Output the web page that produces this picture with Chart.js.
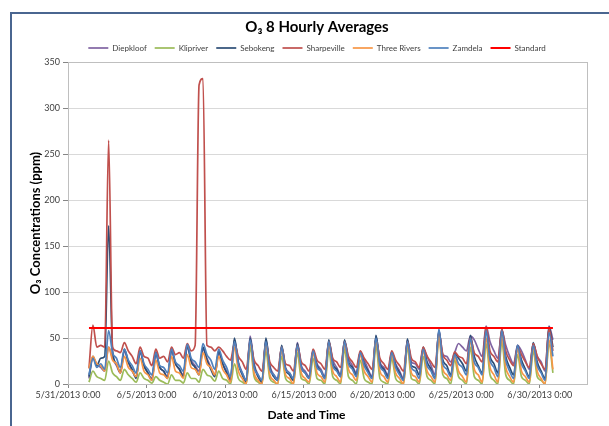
<!DOCTYPE html>
<html>
<head>
<meta charset="utf-8">
<script src="https://cdn.jsdelivr.net/npm/chart.js@4"></script>
<style>
    html, body { margin: 0; padding: 0; background: #fff; overflow: hidden; }
    #wrap { position: relative; width: 609px; height: 426px; overflow: hidden; }
    #box { position: absolute; left: 0; top: 0; width: 624px; height: 426px; }
</style>
</head>
<body>
<div id="wrap">
    <div id="box"><canvas id="o3Chart"></canvas></div>
</div>
<script>
// x axis: days since 5/31/2013 0:00
const tickDays = [0, 5, 10, 15, 20, 25, 30];
const tickLabels = ["5/31/2013 0:00", "6/5/2013 0:00", "6/10/2013 0:00", "6/15/2013 0:00",
                    "6/20/2013 0:00", "6/25/2013 0:00", "6/30/2013 0:00"];
const xAxisTitle = "Date and Time";

// samples every 6 hours, 6/1 8:00 to 6/30 20:00
const sampleHours = [2, 8, 14, 20];
const firstDay = 1;
const lastDay = 30;

const stationNames = ["Diepkloof", "Klipriver", "Sebokeng", "Sharpeville", "Three Rivers", "Zamdela"];
const standardValue = 61;

const diepkloof = [
    6, 28, 22,
    18, 14, 40, 28,   20, 12, 36, 24,   14, 8, 34, 20,    12, 6, 32, 18,
    14, 8, 36, 22,    16, 10, 40, 26,   20, 14, 38, 28,   18, 10, 34, 22,   14, 6, 48, 24,
    12, 4, 52, 22,    10, 4, 48, 20,    10, 6, 40, 18,    12, 6, 45, 20,    14, 8, 36, 22,
    16, 8, 46, 26,    18, 10, 47, 28,   20, 12, 34, 26,   16, 8, 52, 24,    18, 10, 34, 22,
    14, 6, 48, 24,    22, 16, 38, 30,   20, 10, 58, 32,   30, 24, 34, 44,   40, 36, 52, 48,
    38, 30, 63, 46,   36, 28, 58, 42,   30, 22, 42, 36,   26, 16, 44, 30,   24, 14, 63, 48
];
const klipriver = [
    2, 14, 8,
    6, 4, 25, 12,     8, 4, 16, 10,     6, 2, 12, 6,      4, 1, 8, 4,
    2, 0, 10, 4,      4, 1, 12, 6,      6, 2, 16, 10,     8, 3, 14, 6,      4, 0, 22, 6,
    2, 0, 40, 8,      2, 0, 36, 6,      2, 0, 30, 6,      2, 0, 34, 6,      4, 0, 28, 6,
    4, 0, 36, 8,      4, 0, 38, 8,      4, 0, 26, 6,      2, 0, 42, 6,      2, 0, 28, 6,
    2, 0, 40, 6,      4, 0, 30, 8,      4, 0, 54, 10,     6, 0, 26, 8,      4, 0, 40, 8,
    4, 0, 44, 10,     4, 0, 46, 10,     4, 0, 32, 8,      4, 0, 36, 8,      4, 0, 44, 12
];
const sebokeng = [
    8, 30, 20,
    28, 30, 172, 36,  22, 12, 38, 24,   16, 6, 36, 20,    12, 4, 35, 18,
    14, 6, 38, 22,    16, 8, 42, 24,    18, 10, 40, 26,   16, 8, 36, 22,    12, 4, 50, 22,
    10, 2, 50, 20,    8, 2, 50, 18,     8, 4, 42, 16,     10, 4, 44, 18,    12, 6, 37, 20,
    14, 6, 48, 22,    16, 8, 48, 24,    18, 10, 35, 22,   14, 6, 53, 22,    16, 8, 35, 20,
    12, 4, 49, 20,    18, 10, 40, 24,   16, 6, 58, 26,    20, 10, 33, 28,   22, 14, 53, 30,
    20, 12, 60, 30,   22, 12, 60, 30,   18, 10, 42, 26,   16, 8, 45, 24,    14, 6, 62, 40
];
const sharpeville = [
    17, 64, 40,
    42, 40, 265, 40,  36, 34, 45, 36,   30, 22, 40, 30,   28, 20, 38, 28,
    30, 24, 40, 32,   34, 28, 44, 36,   42, 325, 332, 42, 40, 36, 40, 36,  30, 26, 44, 30,
    24, 16, 46, 26,   20, 14, 44, 24,   18, 14, 40, 22,   20, 14, 42, 24,   20, 14, 38, 26,
    22, 16, 46, 28,   24, 18, 46, 30,   24, 18, 36, 28,   22, 16, 48, 28,   22, 16, 36, 26,
    20, 14, 46, 28,   24, 18, 40, 30,   24, 18, 56, 32,   26, 20, 35, 30,   28, 22, 50, 34,
    30, 24, 62, 36,   30, 24, 60, 36,   26, 20, 40, 32,   24, 18, 44, 30,   22, 16, 60, 36
];
const threeRivers = [
    17, 30, 22,
    20, 14, 40, 26,   22, 12, 30, 18,   14, 8, 28, 14,    10, 4, 26, 12,
    10, 6, 30, 14,    12, 6, 32, 18,    16, 10, 34, 22,   18, 10, 30, 16,   10, 2, 40, 14,
    6, 0, 46, 12,     4, 0, 44, 10,     4, 0, 38, 10,     6, 0, 40, 12,     6, 2, 34, 12,
    8, 2, 44, 14,     8, 2, 44, 16,     10, 4, 32, 14,    8, 2, 48, 14,     8, 2, 32, 12,
    6, 0, 44, 12,     8, 2, 36, 14,     8, 2, 52, 16,     10, 4, 30, 14,    8, 2, 48, 16,
    10, 2, 50, 18,    10, 2, 52, 18,    8, 2, 38, 14,     8, 2, 40, 14,     6, 0, 48, 16
];
const zamdela = [
    10, 28, 18,
    22, 16, 58, 34,   28, 18, 38, 26,   20, 12, 36, 22,   16, 10, 34, 20,
    18, 12, 38, 24,   20, 14, 43, 28,   24, 18, 44, 32,   26, 16, 38, 26,   18, 8, 46, 22,
    12, 4, 48, 18,    10, 4, 46, 16,    10, 4, 40, 16,    12, 6, 42, 18,    12, 6, 36, 18,
    14, 6, 46, 20,    14, 8, 46, 22,    16, 8, 34, 20,    12, 6, 50, 20,    14, 6, 34, 18,
    10, 4, 46, 18,    14, 6, 38, 20,    14, 6, 60, 22,    16, 8, 32, 22,    18, 10, 50, 24,
    18, 10, 58, 26,   18, 8, 58, 26,    14, 6, 42, 22,    14, 6, 42, 20,    12, 4, 56, 30
];

const stationValues = [diepkloof, klipriver, sebokeng, sharpeville, threeRivers, zamdela];
const stationColors = ["#8064a2", "#9bbb59", "#2c4d75", "#c0504d", "#f79646", "#4f81bd"];

// sample times in days
const sampleTimes = [];
for (let d = firstDay; d <= lastDay; d++) {
    sampleHours.forEach(h => {
        if (d === firstDay && h < 8) return;
        sampleTimes.push(d + h / 24);
    });
}

const toPoints = values => values.map((v, i) => ({ x: sampleTimes[i], y: v }));

const datasets = stationNames.map((name, i) => ({
    label: name,
    data: toPoints(stationValues[i]),
    borderColor: stationColors[i],
    backgroundColor: stationColors[i],
    borderWidth: 1.7,
    pointRadius: 0,
    order: 10 - i
}));
datasets.push({
    label: "Standard",
    data: sampleTimes.map(t => ({ x: t, y: standardValue })),
    borderColor: "#ff0000",
    backgroundColor: "#ff0000",
    borderWidth: 2,
    pointRadius: 0,
    order: 0
});

const font = "Lato, 'Open Sans', sans-serif";

// outer chart frame (left and top edges only; the rest is cropped away)
// plus a light grey box around the plot area
const frames = {
    id: "frames",
    beforeDatasetsDraw(chart) {
        const { ctx, chartArea: a } = chart;
        ctx.save();
        ctx.strokeStyle = "#4a6690";
        ctx.lineWidth = 2;
        ctx.beginPath();
        ctx.moveTo(11, chart.height);
        ctx.lineTo(11, 13);
        ctx.lineTo(chart.width, 13);
        ctx.stroke();
        ctx.strokeStyle = "#bfbfbf";
        ctx.lineWidth = 1;
        ctx.strokeRect(a.left + 0.5, a.top + 0.5, a.right - a.left, a.bottom - a.top);
        ctx.restore();
    }
};

// x axis title sits a little left of the plot centre, as in the Excel original
const xTitle = {
    id: "xTitle",
    afterDraw(chart) {
        const { ctx, chartArea: a } = chart;
        ctx.save();
        ctx.font = "bold 12px " + font;
        ctx.fillStyle = "#000";
        ctx.textAlign = "center";
        ctx.textBaseline = "middle";
        ctx.fillText(xAxisTitle, (a.left + a.right) / 2 - 21, chart.height - 11);
        ctx.restore();
    }
};

new Chart(document.getElementById("o3Chart"), {
    type: "line",
    data: { datasets: datasets },
    plugins: [frames, xTitle],
    options: {
        responsive: true,
        maintainAspectRatio: false,
        animation: false,
        layout: { padding: { left: 10, right: 0, top: 18, bottom: 0 } },
        elements: {
            point: { radius: 0, hoverRadius: 0 },
            line: { cubicInterpolationMode: "monotone" }
        },
        plugins: {
            title: {
                display: true,
                text: "O\u2083 8 Hourly Averages",
                color: "#000",
                font: { family: font, size: 15, weight: "bold" },
                padding: { top: 0, bottom: 0 }
            },
            legend: {
                position: "top",
                labels: {
                    usePointStyle: true,
                    pointStyle: "line",
                    pointStyleWidth: 20,
                    padding: 8,
                    color: "#404040",
                    font: { family: font, size: 8 },
                    sort: (a, b) => a.datasetIndex - b.datasetIndex
                }
            },
            tooltip: { enabled: false }
        },
        scales: {
            x: {
                type: "linear",
                min: 0,
                max: 33,
                afterBuildTicks: axis => { axis.ticks = tickDays.map(v => ({ value: v })); },
                afterFit: axis => { axis.height = 42; },
                ticks: {
                    autoSkip: false,
                    maxRotation: 0,
                    padding: 2,
                    color: "#404040",
                    font: { family: font, size: 9 },
                    callback: (value, index) => tickLabels[index]
                },
                grid: { drawOnChartArea: false, tickLength: 4, color: "#868686" },
                border: { color: "#868686" }
            },
            y: {
                min: 0,
                max: 350,
                afterFit: axis => { axis.width = 58; },
                ticks: {
                    stepSize: 50,
                    padding: 3,
                    color: "#404040",
                    font: { family: font, size: 9 }
                },
                grid: { color: "#d9d9d9", tickColor: "#868686", tickLength: 5 },
                border: { color: "#868686" },
                title: {
                    display: true,
                    text: "O\u2083 Concentrations (ppm)",
                    color: "#000",
                    font: { family: font, size: 13, weight: "bold" },
                    padding: { top: 18, bottom: 0 }
                }
            },
            // empty right-hand scale that only keeps space right of the plot
            spacer: {
                position: "right",
                afterFit: axis => { axis.width = 37; },
                ticks: { display: false },
                grid: { display: false },
                border: { display: false }
            }
        }
    }
});
</script>
</body>
</html>
